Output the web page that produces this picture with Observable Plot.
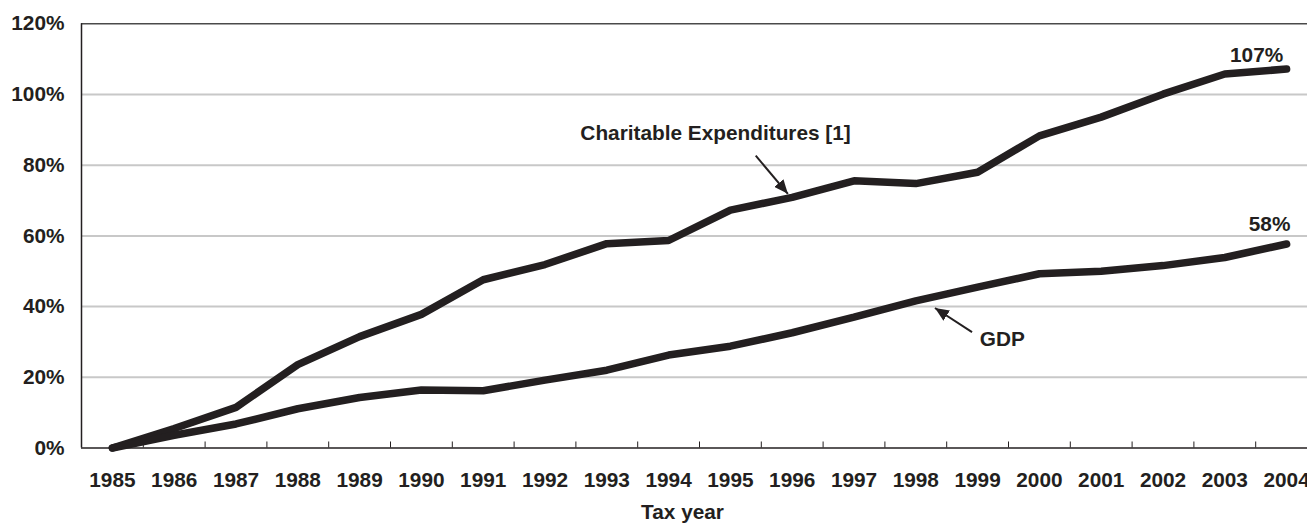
<!DOCTYPE html>
<html><head><meta charset="utf-8">
<script src="https://cdn.jsdelivr.net/npm/d3@7"></script>
<script src="https://cdn.jsdelivr.net/npm/@observablehq/plot@0.6"></script>
<style>body{margin:0;background:#fff} #chart svg{display:block}</style>
</head><body><div id="chart"></div>
<script>
const years = [1985,1986,1987,1988,1989,1990,1991,1992,1993,1994,1995,1996,1997,1998,1999,2000,2001,2002,2003,2004];
const charitable = [0,5.5,11.5,23.6,31.5,37.8,47.6,51.9,57.8,58.7,67.3,70.9,75.6,74.8,78.0,88.3,93.6,100.1,105.8,107.2];
const gdp = [0,3.6,6.8,11.1,14.3,16.4,16.2,19.2,22.0,26.3,28.8,32.6,37.0,41.6,45.5,49.3,50.0,51.6,53.9,57.7];
const yTicks = [0,20,40,60,80,100,120];
const gridTicks = [20,40,60,80,100];
const endLabels = ["107%","58%"];
const annoText = [
  {label:"Charitable Expenditures [1]", x:1994.76, y:88.9},
  {label:"GDP", x:1999.4, y:30.6}
];
const annoArrows = [
  {x1:1995.41, y1:82.7, x2:1995.93, y2:71.9},
  {x1:1998.91, y1:32.8, x2:1998.31, y2:39.6}
];
const xLabel = "Tax year";

const ink = "#231f20";
const series = [
  ...years.map((y,i)=>({year:y, value:charitable[i], name:"Charitable"})),
  ...years.map((y,i)=>({year:y, value:gdp[i], name:"GDP"}))
];
const boundaries = years.slice(0,-1).map(y=>y+0.5);

function headMarker(color, context){
  const m = d3.create("svg:marker")
    .attr("viewBox","-14 -6 14 12")
    .attr("markerWidth",14).attr("markerHeight",12)
    .attr("markerUnits","userSpaceOnUse")
    .attr("refX",0).attr("refY",0)
    .attr("orient","auto");
  m.append("path").attr("d","M-14,-6L0,0L-14,6Z").attr("fill",color).attr("stroke","none");
  return m.node();
}

const chart = Plot.plot({
  width:1307, height:527,
  marginLeft:81, marginTop:23.3, marginBottom:79.5, marginRight:0,
  style:{fontFamily:"'Liberation Sans', Arial, sans-serif", fontSize:"20.8px", fontWeight:"bold", color:ink, background:"#fff"},
  x:{type:"linear", domain:[1984.5,2004.5], range:[81,1317]},
  y:{domain:[0,120], range:[447.5,23.3]},
  marks:[
    Plot.ruleY(gridTicks, {stroke:"#c8c8c8", strokeWidth:2}),
    Plot.ruleY([120], {stroke:"#4a4a4a", strokeWidth:1.5}),
    Plot.ruleY([0], {stroke:ink, strokeWidth:1.5}),
    Plot.ruleX([1984.5], {stroke:ink, strokeWidth:1.5}),
    Plot.ruleX(boundaries, {y1:0, y2:1.7, stroke:ink, strokeWidth:1}),
    Plot.axisX({ticks:years, tickFormat:d=>String(d), tickSize:0, tickPadding:24, label:null, fill:ink, fontWeight:"bold"}),
    Plot.axisY({ticks:yTicks, tickFormat:d=>d+"%", tickSize:0, tickPadding:17, label:null, fill:ink, fontWeight:"bold"}),
    Plot.text([xLabel], {frameAnchor:"bottom", dx:-12, dy:70.5, fill:ink, fontWeight:"bold"}),
    Plot.line(series, {x:"year", y:"value", z:"name", stroke:ink, strokeWidth:7.5, strokeLinecap:"round", strokeLinejoin:"miter"}),
    Plot.text([endLabels[0]], {x:()=>years[years.length-1], y:()=>charitable[charitable.length-1], dx:-30, dy:-14, fill:ink, fontWeight:"bold"}),
    Plot.text([endLabels[1]], {x:()=>years[years.length-1], y:()=>gdp[gdp.length-1], dx:-17, dy:-20, fill:ink, fontWeight:"bold"}),
    Plot.text(annoText, {x:"x", y:"y", text:"label", fill:ink, fontWeight:"bold"}),
    Plot.link(annoArrows, {x1:"x1", y1:"y1", x2:"x2", y2:"y2", stroke:ink, strokeWidth:2, markerEnd:headMarker})
  ]
});
document.getElementById("chart").appendChild(chart);
</script>
</body></html>
